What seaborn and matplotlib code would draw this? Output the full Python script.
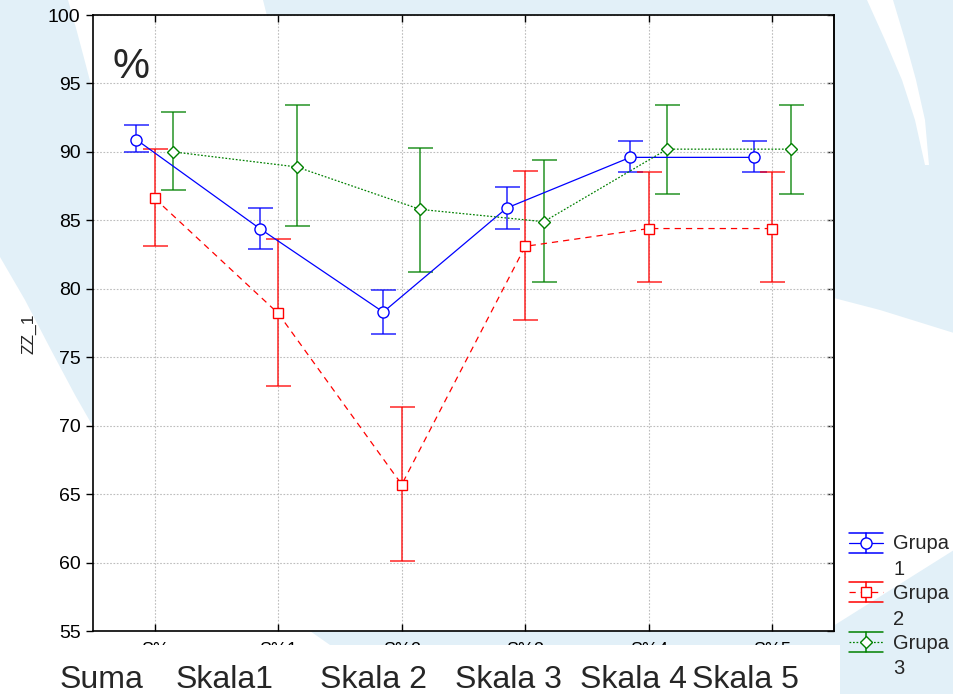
import numpy as np
import pandas as pd
import seaborn as sns
import matplotlib
matplotlib.use("Agg")
import matplotlib.pyplot as plt
from matplotlib.lines import Line2D
from matplotlib.patches import Polygon, Rectangle
from matplotlib.legend_handler import HandlerBase

# ---- data -------------------------------------------------------------
scales = ["Suma", "Skala1", "Skala 2", "Skala 3", "Skala 4", "Skala 5"]
tick_labels = ["S%", "S%1", "S%2", "S%3", "S%4", "S%5"]
groups = ["Grupa\n1", "Grupa\n2", "Grupa\n3"]

g1_mean = [90.9, 84.4, 78.3, 85.9, 89.6, 89.6]
g1_low = [90.0, 82.9, 76.7, 84.4, 88.5, 88.5]
g1_high = [92.0, 85.9, 79.9, 87.4, 90.8, 90.8]

g2_mean = [86.6, 78.2, 65.7, 83.1, 84.4, 84.4]
g2_low = [83.1, 72.9, 60.1, 77.7, 80.5, 80.5]
g2_high = [90.2, 83.6, 71.4, 88.6, 88.5, 88.5]

g3_mean = [90.0, 88.9, 85.8, 84.9, 90.2, 90.2]
g3_low = [87.2, 84.6, 81.2, 80.5, 86.9, 86.9]
g3_high = [92.9, 93.4, 90.3, 89.4, 93.4, 93.4]

rows = []
for g, means, lows, highs in zip(groups,
                                 [g1_mean, g2_mean, g3_mean],
                                 [g1_low, g2_low, g3_low],
                                 [g1_high, g2_high, g3_high]):
    for i, (m, lo, hi) in enumerate(zip(means, lows, highs)):
        rows.append({"group": g, "pos": i, "mean": m, "low": lo, "high": hi})
df = pd.DataFrame(rows)

# ---- styling ----------------------------------------------------------
sns.set_style("white")
plt.rcParams["font.family"] = ["Liberation Sans", "DejaVu Sans"]

styles = {
    groups[0]: dict(color="#0000ff", marker="o", ls="-", ms=8.0, off=-0.15),
    groups[1]: dict(color="#ff0000", marker="s", ls=(0, (5, 4)), ms=7.5, off=0.0),
    groups[2]: dict(color="#008000", marker="D", ls=(0, (1.4, 1.4)), ms=6.0, off=0.15),
}

W, H = 954, 694
fig = plt.figure(figsize=(W / 100, H / 100), dpi=100)
fig.patch.set_facecolor("#e2f0f8")


def px(pts):
    return [(x / W, 1 - y / H) for x, y in pts]


# white swoosh shapes of the slide background
bg_shapes = [
    [(68, 0), (263, 0), (268, 20), (95, 20), (95, 100), (84, 58), (76, 28)],
    [(0, 257), (25, 300), (50, 348), (75, 395), (95, 430), (95, 631),
     (310, 631), (330, 645), (0, 645)],
    [(867, 0), (893, 0), (905, 40), (916, 80), (925, 120), (929, 165),
     (925, 165), (915, 120), (902, 80), (885, 40)],
    [(830, 297), (880, 310), (954, 333), (954, 550), (830, 628)],
]
for shp in bg_shapes:
    fig.add_artist(Polygon(px(shp), closed=True, transform=fig.transFigure,
                           facecolor="white", edgecolor="none", zorder=-5))

ax = fig.add_axes([93 / W, 1 - 631 / H, (834 - 93) / W, (631 - 15) / H])
ax.set_facecolor("white")

for g in groups:
    st = styles[g]
    sub = df[df["group"] == g]
    xs = sub["pos"] + st["off"]
    ax.errorbar(xs, sub["mean"],
                yerr=[sub["mean"] - sub["low"], sub["high"] - sub["mean"]],
                fmt="none", ecolor=st["color"], elinewidth=1.1,
                capsize=9, capthick=1.1, zorder=2, alpha=0.85)
    sns.lineplot(x=xs, y=sub["mean"], ax=ax, color=st["color"],
                 marker=st["marker"], linestyle=st["ls"], lw=0.9,
                 ms=st["ms"], mfc="white", mec=st["color"], mew=1.0,
                 errorbar=None, sort=False, legend=False, zorder=3)

ax.set_xlim(-0.5, 5.5)
ax.set_ylim(55, 100)
ax.set_xticks(range(len(tick_labels)))
ax.set_xticklabels(tick_labels, fontsize=13)
ax.set_yticks(np.arange(55, 101, 5))
ax.set_yticklabels([str(v) for v in range(55, 101, 5)], fontsize=14)
ax.set_xlabel("")
ax.set_ylabel("ZZ_1", fontsize=12.5)
ax.yaxis.set_label_coords(-0.076, 0.482)

ax.grid(True, color="#bdbdbd", linestyle=(0, (1.5, 1.5)), linewidth=0.8)
for sp in ax.spines.values():
    sp.set_visible(True)
    sp.set_color("black")
    sp.set_linewidth(1.2)

ax.tick_params(axis="x", direction="in", bottom=True, top=True,
               length=5, width=1, pad=8, colors="black")
ax.tick_params(axis="y", direction="out", left=True, right=False,
               length=5, width=1, pad=4, colors="black")
sec = ax.secondary_yaxis("right")
sec.set_yticks(np.arange(55, 101, 5))
sec.tick_params(axis="y", direction="in", length=5, width=1, labelright=False)
sec.spines["right"].set_linewidth(1.2)

ax.text(0.051, 0.916, "%", transform=ax.transAxes, fontsize=30,
        ha="center", va="center")


# ---- legend with error-bar keys -------------------------------------
class ErrorbarKey(HandlerBase):
    def __init__(self, lift=0.0, **kw):
        super().__init__(**kw)
        self.lift = lift

    def create_artists(self, legend, orig_handle, xdescent, ydescent,
                       width, height, fontsize, trans):
        x0 = -xdescent
        x1 = x0 + width
        xm = 0.5 * (x0 + x1)
        yb = -ydescent + self.lift * fontsize
        yt = yb + height
        ym = 0.5 * (yb + yt)
        c = orig_handle.get_color()
        arts = [
            Line2D([x0, x1], [yt, yt], color=c, lw=1.1),
            Line2D([x0, x1], [yb, yb], color=c, lw=1.1),
            Line2D([xm, xm], [yb, yt], color=c, lw=1.1),
        ]
        mid = Line2D([x0, x1], [ym, ym])
        mid.update_from(orig_handle)
        mid.set_marker("None")
        arts.append(mid)
        mk = Line2D([xm], [ym])
        mk.update_from(orig_handle)
        mk.set_linestyle("None")
        arts.append(mk)
        for a in arts:
            a.set_transform(trans)
        return arts


handles = []
for g in groups:
    st = styles[g]
    handles.append(Line2D([], [], color=st["color"], marker=st["marker"],
                          linestyle=st["ls"], lw=0.9, ms=st["ms"],
                          mfc="white", mec=st["color"], mew=1.0))
key = ErrorbarKey(lift=0.72)
leg = fig.legend(handles, groups, loc="upper left",
                 bbox_to_anchor=(849 / W, 1 - 534 / H), bbox_transform=fig.transFigure,
                 frameon=False, fontsize=14.5, handlelength=1.7, handleheight=1.15,
                 handletextpad=0.5, labelspacing=0.25, borderpad=0, borderaxespad=0,
                 handler_map={Line2D: key})
for t in leg.get_texts():
    t.set_linespacing(1.45)

# caption strip with the scale names
fig.add_artist(Rectangle((0, 0), 840 / W, 1 - 645 / H, transform=fig.transFigure,
                         facecolor="white", edgecolor="none", zorder=5))
name_x = [60, 176, 320, 455, 580, 692]
for name, x in zip(scales, name_x):
    fig.text(x / W, 1 - 688 / H, name, fontsize=23, ha="left", va="baseline",
             zorder=6)

fig.savefig("out.png", dpi=100, facecolor=fig.get_facecolor())
